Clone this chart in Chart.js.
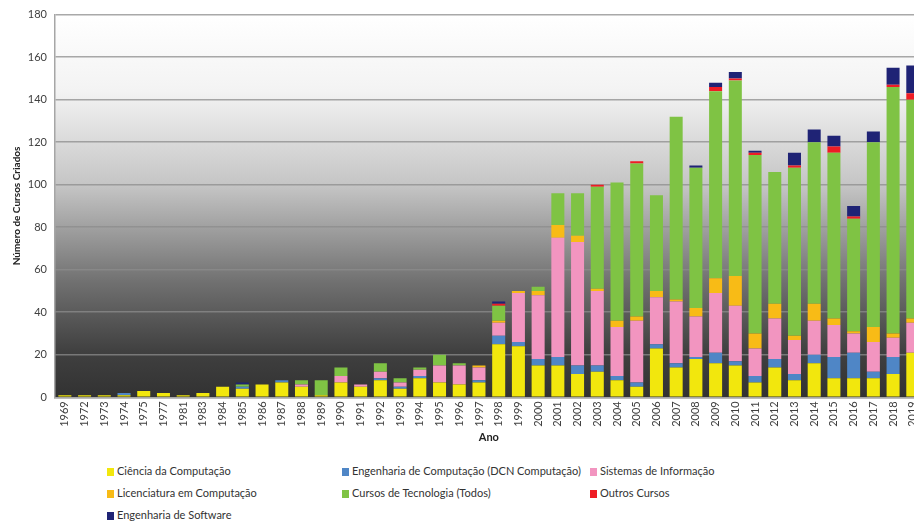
<!DOCTYPE html>
<html>
<head>
<meta charset="utf-8">
<script src="https://cdn.jsdelivr.net/npm/chart.js@4"></script>
<style>
    body { margin: 0; overflow: hidden; background: #fff; font-family: Lato, sans-serif; }
    #wrap { position: relative; width: 930px; height: 450px; }
    #legend { position: absolute; left: 0; top: 450px; width: 914px; height: 76px; }
    .lg-item { position: absolute; font-size: 11px; color: #333; white-space: nowrap; line-height: 12px; }
    .lg-item span { display: inline-block; width: 7px; height: 8px; margin-right: 3px; vertical-align: -1px; }
</style>
</head>
<body>
<div id="wrap"><canvas id="cursos-chart"></canvas></div>
<div id="legend"></div>
<script>
// Categories (anos)
const anos = ['1969','1972','1973','1974','1975','1977','1981','1983','1984','1985','1986','1987','1988','1989',
    '1990','1991','1992','1993','1994','1995','1996','1997','1998','1999',
    '2000','2001','2002','2003','2004','2005','2006','2007','2008','2009',
    '2010','2011','2012','2013','2014','2015','2016','2017','2018','2019'];

// Series values
const cienciaComputacao = [1,1,1,1,3,2,1,2,5,4,6,7,5,1,
    7,5,8,4,9,7,6,7,25,24,
    15,15,11,12,8,5,23,14,18,16,
    15,7,14,8,16,9,9,9,11,21];
const engenhariaComputacao = [0,0,0,1,0,0,0,0,0,1,0,1,0,0,
    0,0,1,1,1,0,0,1,4,2,
    3,4,4,3,2,2,2,2,1,5,
    2,3,4,3,4,10,12,3,8,0];
const sistemasInformacao = [0,0,0,0,0,0,0,0,0,0,0,0,1,0,
    3,1,3,2,3,8,9,6,6,23,
    30,56,58,35,23,29,22,29,19,28,
    26,13,19,16,16,15,9,14,9,14];
const licenciaturaComputacao = [0,0,0,0,0,0,0,0,0,0,0,0,0,0,
    0,0,0,0,0,0,0,1,1,1,
    2,6,3,1,3,2,3,1,4,7,
    14,7,7,2,8,3,1,7,2,2];
const cursosTecnologia = [0,0,0,0,0,0,0,0,0,1,0,0,2,7,
    4,0,4,2,1,5,1,0,7,0,
    2,15,20,48,65,72,45,86,66,88,
    92,84,62,79,76,78,53,87,116,103];
const outrosCursos = [0,0,0,0,0,0,0,0,0,0,0,0,0,0,
    0,0,0,0,0,0,0,0,1,0,
    0,0,0,1,0,1,0,0,0,2,
    1,1,0,1,0,3,1,0,1,3];
const engenhariaSoftware = [0,0,0,0,0,0,0,0,0,1,0,0,0,0,
    0,0,0,0,0,0,0,0,1,0,
    0,0,0,0,0,0,0,0,1,2,
    3,1,0,6,6,5,5,5,8,13];

const yTicks = [0, 20, 40, 60, 80, 100, 120, 140, 160, 180];

const seriesList = [
    { label: 'Ciência da Computação', data: cienciaComputacao, color: '#f2e70d' },
    { label: 'Engenharia de Computação (DCN Computação)', data: engenhariaComputacao, color: '#4f86c6' },
    { label: 'Sistemas de Informação', data: sistemasInformacao, color: '#f295c0' },
    { label: 'Licenciatura em Computação', data: licenciaturaComputacao, color: '#f8bb16' },
    { label: 'Cursos de Tecnologia (Todos)', data: cursosTecnologia, color: '#7fc344' },
    { label: 'Outros Cursos', data: outrosCursos, color: '#ee1c25' },
    { label: 'Engenharia de Software', data: engenhariaSoftware, color: '#1f2375' }
];

// Gradient background of the plot area
const plotBackground = {
    id: 'plotBackground',
    beforeDraw(chart) {
        const { ctx, chartArea } = chart;
        const g = ctx.createLinearGradient(0, chartArea.top, 0, chartArea.bottom);
        g.addColorStop(0, '#ffffff');
        g.addColorStop(0.2, '#f3f3f3');
        g.addColorStop(0.45, '#c4c4c4');
        g.addColorStop(0.7, '#707070');
        g.addColorStop(0.88, '#404040');
        g.addColorStop(1, '#323232');
        ctx.save();
        ctx.fillStyle = g;
        ctx.fillRect(chartArea.left, chartArea.top, chartArea.right - chartArea.left, chartArea.bottom - chartArea.top);
        ctx.restore();
    }
};

const ctx = document.getElementById('cursos-chart').getContext('2d');
const cursosChart = new Chart(ctx, {
    type: 'bar',
    data: {
        labels: anos,
        datasets: seriesList.map(s => ({
            label: s.label,
            data: s.data,
            backgroundColor: s.color,
            borderWidth: 0,
            barPercentage: 0.66,
            categoryPercentage: 1.0
        }))
    },
    options: {
        responsive: true,
        maintainAspectRatio: false,
        animation: false,
        layout: { padding: { top: 14, left: 0, right: 0, bottom: 0 } },
        plugins: {
            legend: { display: false },
            tooltip: { enabled: false }
        },
        scales: {
            x: {
                stacked: true,
                grid: { display: false, drawTicks: false },
                border: { color: '#a6a6a6', width: 1.5 },
                ticks: {
                    autoSkip: false,
                    minRotation: 90,
                    maxRotation: 90,
                    padding: 4,
                    color: '#404040',
                    font: { family: 'Lato', size: 11 }
                },
                title: {
                    display: true,
                    text: 'Ano',
                    color: '#222',
                    font: { family: 'Lato', size: 11, weight: 'bold' },
                    padding: { top: 0, bottom: 6 }
                }
            },
            y: {
                stacked: true,
                min: yTicks[0],
                max: yTicks[yTicks.length - 1],
                ticks: {
                    stepSize: yTicks[1] - yTicks[0],
                    color: '#404040',
                    padding: 8,
                    font: { family: 'Lato', size: 11 }
                },
                grid: { color: 'rgba(140,140,140,0.75)', lineWidth: 1.5, drawTicks: false },
                border: { color: '#a6a6a6', width: 1.5 },
                title: {
                    display: true,
                    text: 'Número de Cursos Criados',
                    color: '#222',
                    font: { family: 'Lato', size: 10, weight: 'bold' },
                    padding: { top: 11, bottom: 4 }
                },
                afterFit(scale) { scale.width = 55; }
            }
        }
    },
    plugins: [plotBackground]
});

// Legend in three columns, built from the datasets
const legendDiv = document.getElementById('legend');
const colX = [107, 342, 590];
const rowY = [15, 37, 59];
cursosChart.data.datasets.forEach((ds, i) => {
    const item = document.createElement('div');
    item.className = 'lg-item';
    item.style.left = colX[i % 3] + 'px';
    item.style.top = rowY[Math.floor(i / 3)] + 'px';
    item.innerHTML = '<span style="background:' + ds.backgroundColor + '"></span>' + ds.label;
    legendDiv.appendChild(item);
});
</script>
</body>
</html>
